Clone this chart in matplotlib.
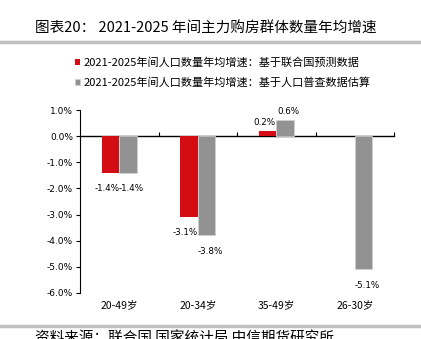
import matplotlib
matplotlib.use("Agg")
import matplotlib.pyplot as plt
import numpy as np

plt.rcParams['font.family'] = ['Noto Sans CJK SC', 'DejaVu Sans']

categories = ['20-49岁', '20-34岁', '35-49岁', '26-30岁']
un_values = [-1.4, -3.1, 0.2, np.nan]
census_values = [-1.4, -3.8, 0.6, -5.1]
series_names = ['2021-2025年间人口数量年均增速：基于联合国预测数据',
                '2021-2025年间人口数量年均增速：基于人口普查数据估算']
yticks = [1.0, 0.0, -1.0, -2.0, -3.0, -4.0, -5.0, -6.0]
title = '图表20： 2021-2025 年间主力购房群体数量年均增速'
source = '资料来源：联合国 国家统计局 中信期货研究所'

RED = '#D40C14'
GRAY = '#929292'

W, H = 421, 339
fig = plt.figure(figsize=(W/100, H/100), dpi=100)
fig.patch.set_facecolor('white')

ax = fig.add_axes([80/W, 1-293/H, (394-80)/W, (293-110)/H])
x = np.arange(len(categories))
bw = 0.22
b1 = ax.bar(x - bw/2, un_values, bw, color=RED, label=series_names[0])
b2 = ax.bar(x + bw/2, census_values, bw, color=GRAY, label=series_names[1],
            edgecolor='#d0d0d0', linewidth=0.6)

ax.set_xlim(-0.5, len(categories) - 0.5)
ax.set_ylim(-6, 1)
ax.set_yticks(yticks)
ax.set_yticklabels([f'{v:.1f}%' for v in yticks], fontsize=6.5, family=['DejaVu Sans'])
ax.tick_params(axis='y', direction='out', length=3, width=0.8, pad=2)
ax.set_xticks(x)
ax.set_xticklabels(categories, fontsize=7.5)
ax.tick_params(axis='x', length=0, pad=5)
for s in ['top', 'right', 'bottom']:
    ax.spines[s].set_visible(False)
ax.spines['left'].set_linewidth(0.8)

sec = ax.secondary_xaxis(6/7)
sec.set_xticks(np.arange(len(categories)) + 0.5)
sec.set_xticklabels([])
sec.tick_params(axis='x', direction='out', length=3, width=0.8)
sec.spines['bottom'].set_linewidth(1.0)
sec.spines['top'].set_linewidth(1.0)

def annotate(bars, vals, dx):
    for rect, v in zip(bars, vals):
        if np.isnan(v):
            continue
        cx = rect.get_x() + rect.get_width()/2 + dx
        if v < 0:
            ax.annotate(f'{v:.1f}%', (cx, v), xytext=(0, -8), textcoords='offset points',
                        ha='center', va='top', fontsize=6.3, family=['DejaVu Sans'])
        else:
            ax.annotate(f'{v:.1f}%', (cx, v), xytext=(0, 3), textcoords='offset points',
                        ha='center', va='bottom', fontsize=6.3, family=['DejaVu Sans'])

annotate(b1, un_values, -0.045)
annotate(b2, census_values, 0.045)

fig.text(35/W, 1-29/H, title, fontsize=10.5, va='center', ha='left')
fig.add_artist(plt.Line2D([0, 1], [1-42/H, 1-42/H], color='#c0c0c0', linewidth=2.5))
fig.add_artist(plt.Line2D([0, 1], [1-326/H, 1-326/H], color='#c0c0c0', linewidth=2.5))
fig.text(35/W, 1-338/H, source, fontsize=10.5, va='center', ha='left')

fig.legend(handles=[b1, b2], loc='upper left', bbox_to_anchor=(75/W, 1-57/H),
           frameon=False, fontsize=8, handlelength=0.45, handleheight=0.45,
           handletextpad=0.3, labelspacing=0.85, borderaxespad=0, borderpad=0)

fig.savefig('out.png', dpi=100, facecolor='white')
